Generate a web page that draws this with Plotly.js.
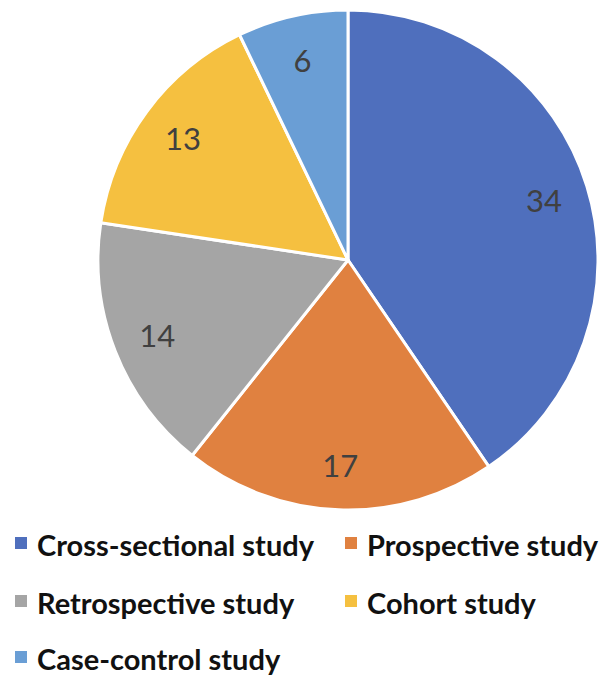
<!DOCTYPE html>
<html>
<head>
<meta charset="utf-8">
<script src="https://cdn.plot.ly/plotly-3.0.1.min.js"></script>
<style>html,body{margin:0;padding:0;background:#fff;}#chart{width:616px;height:679px;}</style>
</head>
<body>
<div id="chart"></div>
<script>
const labels = ["Cross-sectional study", "Prospective study", "Retrospective study", "Cohort study", "Case-control study"];
const values = [34, 17, 14, 13, 6];
const colors = ["#4F6FBD", "#E08140", "#A5A5A5", "#F5C040", "#6A9ED5"];

const W = 616, H = 679;
const dom = {x: [98 / W, 598 / W], y: [1 - 510 / H, 1 - 10 / H]};

const pie = {
  type: "pie", labels: labels, values: values, sort: false,
  direction: "clockwise", rotation: 0, domain: dom,
  marker: {colors: colors, line: {color: "#ffffff", width: 3}},
  textinfo: "none", hoverinfo: "label+value", showlegend: false
};
const textRing = {
  type: "pie", labels: labels, values: values, sort: false,
  direction: "clockwise", rotation: 0, domain: dom, hole: 0.64,
  marker: {colors: labels.map(() => "rgba(0,0,0,0)"), line: {width: 0}},
  textinfo: "value", textposition: "inside", insidetextorientation: "horizontal",
  textfont: {family: "Lato, 'Open Sans', sans-serif", size: 31, color: "#404040"},
  hoverinfo: "skip", showlegend: false
};

// custom legend (3 rows x 2 columns)
const colX = [15, 345], rowY = [543, 601, 657];
const shapes = [], annotations = [];
labels.forEach((lab, i) => {
  const r = Math.floor(i / 2), c = i % 2;
  const x0 = colX[c], yc = rowY[r];
  shapes.push({type: "rect", xref: "paper", yref: "paper",
    x0: x0 / W, x1: (x0 + 12) / W, y0: 1 - (yc + 6) / H, y1: 1 - (yc - 6) / H,
    fillcolor: colors[i], line: {width: 0}});
  annotations.push({xref: "paper", yref: "paper", x: (x0 + 21) / W, y: 1 - (yc + 1) / H,
    xanchor: "left", yanchor: "middle", showarrow: false, borderpad: 0,
    text: "<b>" + lab + "</b>",
    font: {family: "Lato, 'Open Sans', sans-serif", size: 29, color: "#111111"}});
});

const layout = {
  width: W, height: H, margin: {l: 0, r: 0, t: 0, b: 0},
  paper_bgcolor: "#ffffff", showlegend: false,
  shapes: shapes, annotations: annotations
};
Plotly.newPlot("chart", [pie, textRing], layout, {displayModeBar: false, staticPlot: true});
</script>
</body>
</html>
